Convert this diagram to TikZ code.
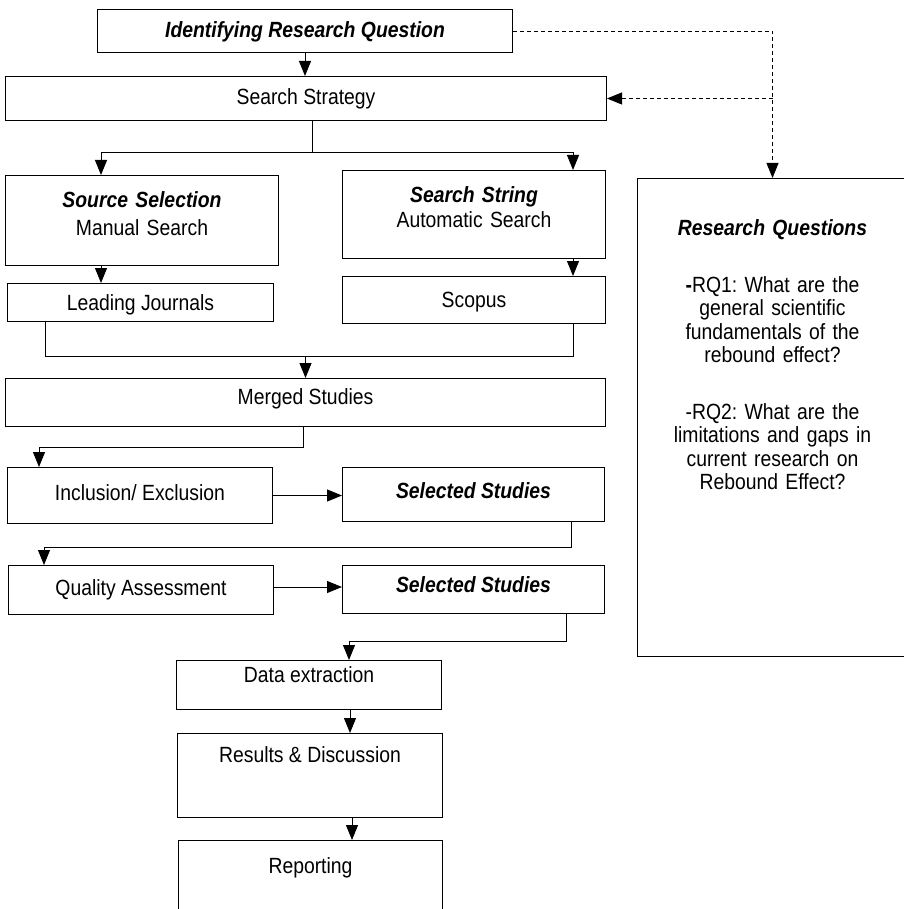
\documentclass[tikz,border=0pt]{standalone}
\usepackage{fontspec}
\setmainfont{Liberation Sans}[FakeStretch = 0.88]
\setsansfont{Liberation Sans}[FakeStretch = 0.88]
\usetikzlibrary{arrows.meta}

\begin{document}
\frenchspacing
\begin{tikzpicture}[x = 1pt, y = -1pt, font = \sffamily\fontsize{22}{23.3}\selectfont]
	\tikzstyle{boxStyle} = [shape = rectangle, draw, line width = 1pt, inner sep = 0pt, anchor = north west]
	\tikzstyle{lineStyle} = [line width = 1pt]
	\tikzstyle{arrowStyle} = [line width = 1pt, -{Triangle[width = 12pt, length = 15pt]}]
	\tikzstyle{dashStyle} = [line width = 0.8pt, dash pattern = on 4pt off 3pt, -{Triangle[width = 12pt, length = 15pt]}]
	\useasboundingbox (0, 0) rectangle (903, 909);
	\node[boxStyle, minimum width = 415pt, text height = 28pt, text depth = 15pt] (iq) at (97, 9) {\textbf{\textit{Identifying Research Question}}};
	\node[boxStyle, minimum width = 601pt, text height = 28pt, text depth = 16pt] (ss) at (5, 76) {Search Strategy};
	\node[boxStyle, minimum width = 273pt, text width = 273pt, align = center, text height = 32pt, text depth = 58pt] (src) at (5, 175) {\textbf{\textit{Source Selection}}\\[4.7pt]Manual Search};
	\node[boxStyle, minimum width = 263pt, text width = 263pt, align = center, text height = 32pt, text depth = 56pt] (str) at (342, 170) {\textbf{\textit{Search String}}\\[1.7pt]Automatic Search};
	\node[boxStyle, minimum width = 266pt, text height = 27pt, text depth = 11pt] (lj) at (7, 283) {Leading Journals};
	\node[boxStyle, minimum width = 263pt, text height = 31pt, text depth = 16pt] (sco) at (342, 276) {Scopus};
	\node[boxStyle, minimum width = 600pt, text height = 26pt, text depth = 22pt] (mer) at (5, 378) {Merged Studies};
	\node[boxStyle, minimum width = 265pt, text height = 33pt, text depth = 23pt] (inc) at (7, 467) {Inclusion/ Exclusion};
	\node[boxStyle, minimum width = 262pt, text height = 31pt, text depth = 23pt] (sel1) at (342, 467) {\textbf{\textit{Selected Studies}}};
	\node[boxStyle, minimum width = 265pt, text height = 30pt, text depth = 19pt] (qua) at (8, 565) {Quality Assessment};
	\node[boxStyle, minimum width = 262pt, text height = 27pt, text depth = 21pt] (sel2) at (342, 565) {\textbf{\textit{Selected Studies}}};
	\node[boxStyle, minimum width = 265pt, text height = 22pt, text depth = 27pt] (dat) at (176, 660) {Data extraction};
	\node[boxStyle, minimum width = 265pt, text height = 29pt, text depth = 55pt] (res) at (177, 733) {Results \& Discussion};
	\node[boxStyle, minimum width = 264pt, text height = 33pt, text depth = 47pt] (rep) at (178, 840) {Reporting};
	\node[boxStyle, minimum width = 270pt, text width = 270pt, align = center, text height = 57pt, text depth = 421pt] (rq) at (637, 178) {\textbf{\textit{Research Questions}}\\[33.7pt]
		\textbf{-}RQ1: What are the\\general scientific\\fundamentals of the\\rebound effect?\\[33.7pt]
		-RQ2: What are the\\limitations and gaps in\\current research on\\Rebound Effect?};
	\draw[arrowStyle] (iq.south) -- (iq.south |- ss.north);
	\draw[dashStyle] (iq.east) -| (rq.north);
	\draw[dashStyle] (rq.north |- ss.east) -- (ss.east);
	\draw[lineStyle] ([xshift = 6pt]ss.south) -- ++(0, 32) coordinate (split);
	\draw[arrowStyle] (split) -| ([xshift = -41pt]src.north);
	\draw[arrowStyle] (split) -| ([xshift = 99pt]str.north);
	\draw[arrowStyle] ([xshift = -41pt]src.south) -- ([xshift = -41pt]src.south |- lj.north);
	\draw[arrowStyle] ([xshift = 99pt]str.south) -- ([xshift = 99pt]str.south |- sco.north);
	\draw[lineStyle] ([xshift = -95pt]lj.south) -- ++(0, 34) coordinate (join) -| ([xshift = 99pt]sco.south);
	\draw[arrowStyle] (join -| mer.north) -- (mer.north);
	\draw[arrowStyle] ([xshift = -2pt]mer.south) -- ++(0, 20) -| ([xshift = 32pt]inc.north west);
	\draw[arrowStyle] (inc.east) -- (inc.east -| sel1.west);
	\draw[arrowStyle] ([xshift = 98pt]sel1.south) -- ++(0, 25) -| ([xshift = 36pt]qua.north west);
	\draw[arrowStyle] ([yshift = 3pt]qua.east) -- ([yshift = 3pt]qua.east -| sel2.west);
	\draw[arrowStyle] ([xshift = 93pt]sel2.south) -- ++(0, 27) -| ([xshift = 173pt]dat.north west);
	\draw[arrowStyle] ([xshift = 174pt]dat.south west) -- ([xshift = 174pt]dat.south west |- res.north);
	\draw[arrowStyle] ([xshift = 175pt]res.south west) -- ([xshift = 175pt]res.south west |- rep.north);
\end{tikzpicture}
\end{document}
